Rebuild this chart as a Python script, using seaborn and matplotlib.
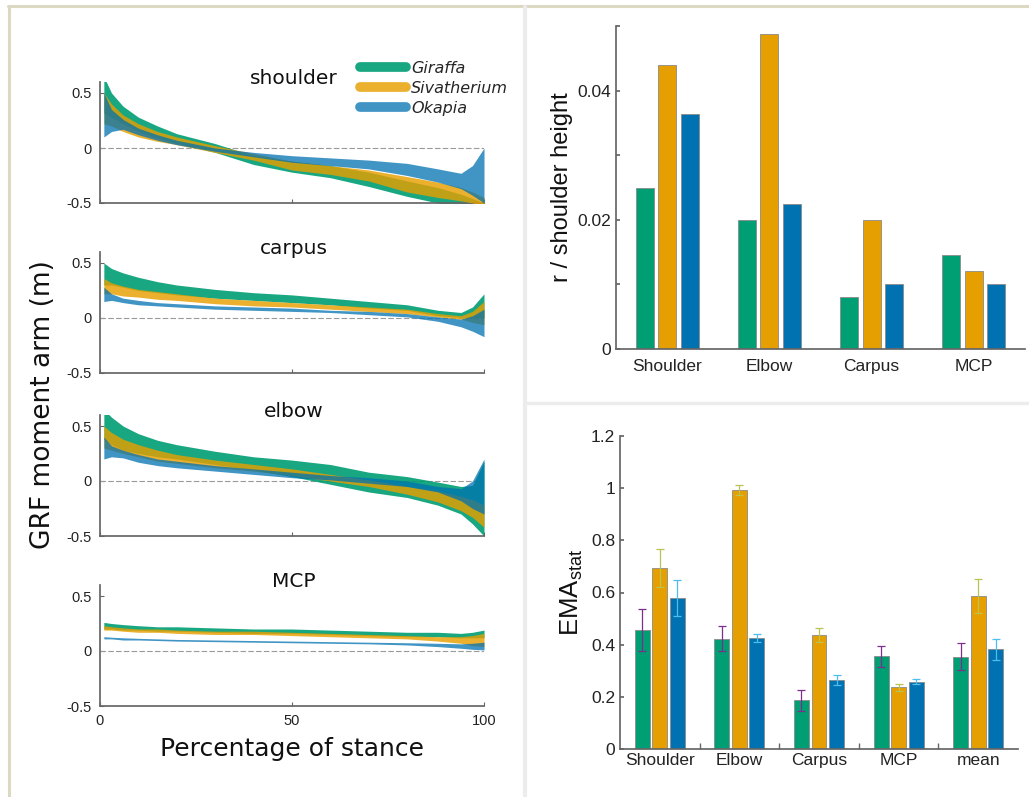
import numpy as np
import pandas as pd
import seaborn as sns
import matplotlib.pyplot as plt
from matplotlib.lines import Line2D
from matplotlib.container import BarContainer

# ---- data -------------------------------------------------------------
species = ["Giraffa", "Sivatherium", "Okapia"]
colors = ["#009E73", "#E69F00", "#0072B2"]
err_colors = ["#7E2F8E", "#B9C452", "#4DBEEE"]
band_alpha = [0.9, 0.82, 0.75]

stance = [1, 3, 6, 10, 15, 20, 30, 40, 50, 60, 70, 80, 88, 94, 97, 100]

# GRF moment arm bands (upper / lower edge), metres
shoulder_gir_hi = [0.65, 0.5, 0.38, 0.28, 0.2, 0.13, 0.04, -0.07, -0.12, -0.16, -0.22, -0.3, -0.36, -0.42, -0.46, -0.5]
shoulder_gir_lo = [0.32, 0.28, 0.22, 0.15, 0.09, 0.04, -0.04, -0.15, -0.22, -0.27, -0.35, -0.44, -0.5, -0.56, -0.6, -0.64]
shoulder_siv_hi = [0.5, 0.4, 0.3, 0.22, 0.15, 0.1, 0.02, -0.05, -0.12, -0.16, -0.2, -0.26, -0.31, -0.36, -0.4, -0.45]
shoulder_siv_lo = [0.22, 0.2, 0.15, 0.1, 0.06, 0.03, -0.04, -0.11, -0.2, -0.24, -0.3, -0.4, -0.45, -0.48, -0.5, -0.52]
shoulder_oka_hi = [0.5, 0.35, 0.26, 0.18, 0.12, 0.07, 0.0, -0.04, -0.07, -0.09, -0.11, -0.14, -0.19, -0.23, -0.16, 0.0]
shoulder_oka_lo = [0.1, 0.15, 0.17, 0.12, 0.07, 0.03, -0.03, -0.08, -0.13, -0.16, -0.19, -0.25, -0.31, -0.37, -0.43, -0.5]

carpus_gir_hi = [0.5, 0.45, 0.41, 0.37, 0.33, 0.3, 0.26, 0.23, 0.21, 0.18, 0.15, 0.12, 0.07, 0.05, 0.1, 0.22]
carpus_gir_lo = [0.3, 0.3, 0.28, 0.25, 0.23, 0.21, 0.18, 0.16, 0.14, 0.12, 0.09, 0.07, 0.02, 0.005, 0.0, 0.0]
carpus_siv_hi = [0.36, 0.32, 0.29, 0.26, 0.24, 0.22, 0.18, 0.16, 0.14, 0.12, 0.1, 0.08, 0.04, 0.02, 0.06, 0.15]
carpus_siv_lo = [0.22, 0.22, 0.2, 0.19, 0.17, 0.16, 0.13, 0.11, 0.1, 0.08, 0.06, 0.04, 0.01, -0.01, -0.04, -0.06]
carpus_oka_hi = [0.28, 0.22, 0.18, 0.16, 0.14, 0.13, 0.11, 0.1, 0.09, 0.07, 0.06, 0.04, 0.01, -0.01, 0.02, 0.08]
carpus_oka_lo = [0.15, 0.16, 0.14, 0.12, 0.11, 0.1, 0.08, 0.07, 0.06, 0.05, 0.03, 0.01, -0.03, -0.08, -0.12, -0.17]

elbow_gir_hi = [0.65, 0.58, 0.5, 0.43, 0.37, 0.33, 0.27, 0.22, 0.19, 0.15, 0.08, 0.04, -0.01, -0.05, -0.04, 0.18]
elbow_gir_lo = [0.38, 0.33, 0.28, 0.25, 0.22, 0.2, 0.15, 0.1, 0.04, -0.03, -0.1, -0.15, -0.22, -0.3, -0.39, -0.5]
elbow_siv_hi = [0.5, 0.44, 0.38, 0.33, 0.28, 0.24, 0.19, 0.15, 0.11, 0.06, 0.01, -0.05, -0.09, -0.14, -0.17, -0.22]
elbow_siv_lo = [0.3, 0.28, 0.25, 0.22, 0.18, 0.16, 0.12, 0.09, 0.05, 0.0, -0.05, -0.12, -0.19, -0.27, -0.33, -0.42]
elbow_oka_hi = [0.4, 0.32, 0.28, 0.24, 0.2, 0.18, 0.14, 0.11, 0.08, 0.05, 0.03, 0.0, -0.05, -0.07, 0.0, 0.2]
elbow_oka_lo = [0.2, 0.22, 0.21, 0.17, 0.14, 0.12, 0.09, 0.06, 0.03, 0.01, -0.02, -0.05, -0.1, -0.18, -0.25, -0.3]

mcp_gir_hi = [0.26, 0.25, 0.24, 0.23, 0.22, 0.22, 0.21, 0.2, 0.2, 0.19, 0.18, 0.17, 0.17, 0.16, 0.17, 0.19]
mcp_gir_lo = [0.2, 0.2, 0.19, 0.19, 0.18, 0.18, 0.17, 0.16, 0.16, 0.15, 0.14, 0.13, 0.13, 0.12, 0.12, 0.12]
mcp_siv_hi = [0.23, 0.22, 0.21, 0.2, 0.2, 0.19, 0.18, 0.18, 0.17, 0.16, 0.15, 0.14, 0.13, 0.13, 0.14, 0.16]
mcp_siv_lo = [0.19, 0.19, 0.18, 0.17, 0.17, 0.16, 0.15, 0.15, 0.14, 0.13, 0.12, 0.11, 0.09, 0.07, 0.05, 0.04]
mcp_oka_hi = [0.13, 0.125, 0.12, 0.115, 0.11, 0.105, 0.1, 0.095, 0.09, 0.085, 0.08, 0.075, 0.07, 0.065, 0.07, 0.08]
mcp_oka_lo = [0.11, 0.11, 0.1, 0.1, 0.095, 0.09, 0.085, 0.08, 0.075, 0.07, 0.065, 0.055, 0.04, 0.025, 0.015, 0.01]

joints_left = ["shoulder", "carpus", "elbow", "MCP"]
bands = {
    "shoulder": [(shoulder_gir_lo, shoulder_gir_hi), (shoulder_siv_lo, shoulder_siv_hi), (shoulder_oka_lo, shoulder_oka_hi)],
    "carpus": [(carpus_gir_lo, carpus_gir_hi), (carpus_siv_lo, carpus_siv_hi), (carpus_oka_lo, carpus_oka_hi)],
    "elbow": [(elbow_gir_lo, elbow_gir_hi), (elbow_siv_lo, elbow_siv_hi), (elbow_oka_lo, elbow_oka_hi)],
    "MCP": [(mcp_gir_lo, mcp_gir_hi), (mcp_siv_lo, mcp_siv_hi), (mcp_oka_lo, mcp_oka_hi)],
}

# r / shoulder height
joints_r = ["Shoulder", "Elbow", "Carpus", "MCP"]
r_giraffa = [0.025, 0.020, 0.008, 0.0145]
r_sivatherium = [0.044, 0.0487, 0.020, 0.012]
r_okapia = [0.0364, 0.0225, 0.010, 0.010]

# EMA stat with error
joints_ema = ["Shoulder", "Elbow", "Carpus", "MCP", "mean"]
ema_giraffa = [0.456, 0.423, 0.186, 0.355, 0.354]
ema_sivatherium = [0.693, 0.992, 0.437, 0.236, 0.588]
ema_okapia = [0.578, 0.424, 0.265, 0.258, 0.382]
err_giraffa = [0.08, 0.049, 0.04, 0.041, 0.051]
err_sivatherium = [0.072, 0.019, 0.028, 0.012, 0.065]
err_okapia = [0.07, 0.015, 0.018, 0.009, 0.041]

# ---- figure -----------------------------------------------------------
sns.set_theme(style="ticks")
plt.rcParams["font.family"] = ["Liberation Sans", "DejaVu Sans"]
plt.rcParams["axes.edgecolor"] = "#666666"
plt.rcParams["xtick.color"] = "#666666"
plt.rcParams["ytick.color"] = "#666666"
plt.rcParams["xtick.labelcolor"] = "#222222"
plt.rcParams["ytick.labelcolor"] = "#222222"

W, H = 1029, 797
fig = plt.figure(figsize=(W / 100, H / 100), dpi=100)


def px_axes(x0, y0, x1, y1):
    return fig.add_axes([x0 / W, 1 - y1 / H, (x1 - x0) / W, (y1 - y0) / H])


# panel frames
fig.add_artist(Line2D([8 / W, 1], [1 - 6 / H] * 2, color="#dcd9c3", lw=2.2))
fig.add_artist(Line2D([9 / W] * 2, [0, 1 - 6 / H], color="#dcd9c3", lw=2.2))
fig.add_artist(Line2D([525 / W] * 2, [0, 1 - 7 / H], color="#ececec", lw=3))
fig.add_artist(Line2D([527 / W, 1], [1 - 403 / H] * 2, color="#ececec", lw=2.5))

# left: moment arm bands
left_tops = [82, 252, 415, 585]
for i, joint in enumerate(joints_left):
    top = left_tops[i]
    ax = px_axes(100, top, 484, top + 121)
    for k, (lo, hi) in enumerate(bands[joint]):
        ax.fill_between(stance, lo, hi, color=colors[k], alpha=band_alpha[k],
                        linewidth=0, zorder=2 + k)
    ax.axhline(0, color="#9a9a9a", lw=0.8, ls=(0, (5, 2)), zorder=1)
    ax.set_xlim(0, 100)
    ax.set_ylim(-0.5, 0.6)
    ax.set_yticks([-0.5, 0, 0.5])
    ax.set_yticklabels(["-0.5", "0", "0.5"])
    ax.set_xticks([0, 50, 100])
    ax.tick_params(direction="in", length=3, width=0.8, labelsize=10.5, pad=6)
    if joint != "MCP":
        ax.set_xticklabels([])
    else:
        ax.set_xticklabels(["0", "50", "100"])
    sns.despine(ax=ax)
    ax.text(0.505, 1.03, joint, transform=ax.transAxes, ha="center", va="center",
            fontsize=14.5, family="DejaVu Sans", color="#111111")
    if joint == "MCP":
        ax.set_xlabel("Percentage of stance", fontsize=18, family="DejaVu Sans",
                      labelpad=6, color="#111111")
    if joint == "shoulder":
        handles = [Line2D([0], [0], color=colors[k], lw=7, alpha=band_alpha[k],
                          solid_capstyle="round") for k in range(3)]
        fig.legend(handles, species, loc="upper left",
                   bbox_to_anchor=(360 / W, 1 - 61 / H), frameon=False,
                   handlelength=2.9, handletextpad=0.3, labelspacing=0.3,
                   borderpad=0, borderaxespad=0,
                   prop={"family": "DejaVu Sans", "style": "italic", "size": 11.5})

fig.text(43 / W, 1 - 405 / H, "GRF moment arm (m)", rotation=90, ha="center",
         va="center", fontsize=19, family="DejaVu Sans", color="#111111")

# top right: r / shoulder height
r_df = pd.DataFrame({
    "joint": joints_r * 3,
    "species": np.repeat(species, len(joints_r)),
    "value": r_giraffa + r_sivatherium + r_okapia,
})
ax_r = px_axes(616, 26, 1025, 349)
sns.barplot(data=r_df, x="joint", y="value", hue="species", palette=colors,
            width=0.66, gap=0.19, edgecolor="#8a8a8a", linewidth=0.6,
            saturation=1, errorbar=None, legend=False, ax=ax_r)
ax_r.set_xlim(-0.5, 3.5)
ax_r.set_ylim(0, 0.05)
ax_r.set_yticks([0, 0.01, 0.02, 0.03, 0.04, 0.05])
ax_r.set_yticklabels(["0", "", "0.02", "", "0.04", ""])
ax_r.tick_params(axis="y", direction="in", length=3, labelsize=12.5)
ax_r.tick_params(axis="x", length=0, labelsize=12.5, pad=7)
ax_r.set_xlabel("")
ax_r.set_ylabel("r / shoulder height", fontsize=17, labelpad=3, color="#111111")
sns.despine(ax=ax_r)

# bottom right: EMA stat
ema_df = pd.DataFrame({
    "joint": joints_ema * 3,
    "species": np.repeat(species, len(joints_ema)),
    "value": ema_giraffa + ema_sivatherium + ema_okapia,
})
ax_e = px_axes(620, 436, 1018, 749)
sns.barplot(data=ema_df, x="joint", y="value", hue="species", palette=colors,
            width=0.66, gap=0.15, edgecolor="#8a8a8a", linewidth=0.6,
            saturation=1, errorbar=None, legend=False, ax=ax_e)
errs = [err_giraffa, err_sivatherium, err_okapia]
bar_conts = [c for c in ax_e.containers if isinstance(c, BarContainer)]
for k, cont in enumerate(bar_conts):
    bars = [b for b in cont if b is not None]
    xs = [b.get_x() + b.get_width() / 2 for b in bars]
    ys = [b.get_height() for b in bars]
    ax_e.errorbar(xs, ys, yerr=errs[k], fmt="none", ecolor=err_colors[k],
                  elinewidth=0.9, capsize=3, capthick=0.9, zorder=5)
ax_e.set_xlim(-0.5, 4.5)
ax_e.set_ylim(0, 1.2)
ax_e.set_yticks([0, 0.2, 0.4, 0.6, 0.8, 1.0, 1.2])
ax_e.set_yticklabels(["0", "0.2", "0.4", "0.6", "0.8", "1", "1.2"])
ax_e.set_xticks([0.5, 1.5, 2.5, 3.5], minor=True)
ax_e.tick_params(axis="y", direction="in", length=3, labelsize=12.5)
ax_e.tick_params(axis="x", which="major", length=0, labelsize=12.5, pad=3)
ax_e.tick_params(axis="x", which="minor", direction="in", length=4)
ax_e.set_xlabel("")
ax_e.set_ylabel("EMA$_\\mathregular{stat}$", fontsize=18.5, labelpad=4, color="#111111")
sns.despine(ax=ax_e)

fig.savefig("out.png", dpi=100)
